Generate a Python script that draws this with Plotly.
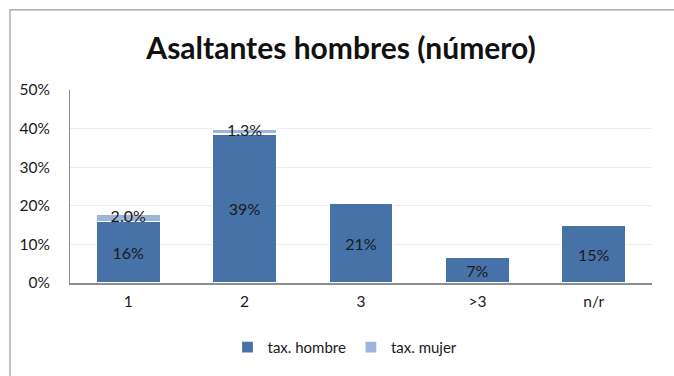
import plotly.graph_objects as go

# Data
categorias = ["1", "2", "3", ">3", "n/r"]
tax_hombre = [15.9, 38.6, 20.7, 6.6, 14.9]
tax_mujer = [2.0, 1.3, 0.0, 0.0, 0.0]
y_ticks = [0, 10, 20, 30, 40, 50]
y_tick_labels = ["0%", "10%", "20%", "30%", "40%", "50%"]

W, H = 674, 376
ML, MR, MT, MB = 70, 22, 90, 91

C_HOMBRE = "#4672A8"
C_MUJER = "#9DB5DB"
FONT = "Lato"
TXT = "#1a1a1a"

fig = go.Figure()

fig.add_trace(go.Bar(
    x=categorias, y=tax_hombre, name="tax. hombre",
    marker=dict(color=C_HOMBRE, line=dict(color="white", width=1.2)),
    text=[f"{v:.0f}%" for v in tax_hombre],
    textposition="inside", insidetextanchor="middle",
    textfont=dict(family=FONT, size=16, color=TXT),
    constraintext="none",
))
fig.add_trace(go.Bar(
    x=categorias, y=tax_mujer, name="tax. mujer",
    marker=dict(color=C_MUJER, line=dict(color="white", width=1.2)),
    textposition="none",
))

# Labels for the thin mujer segments, centred on each segment
lab_x = [c for c, m in zip(categorias, tax_mujer) if m > 0]
lab_y = [h + m / 2 for h, m in zip(tax_hombre, tax_mujer) if m > 0]
lab_t = [f"{m:.1f}%" for m in tax_mujer if m > 0]
fig.add_trace(go.Scatter(
    x=lab_x, y=lab_y, mode="text", text=lab_t, showlegend=False,
    textfont=dict(family=FONT, size=16, color=TXT),
    hoverinfo="skip",
))

pw = W - ML - MR
ph = H - MT - MB

def px_x(p):
    return (p - ML) / pw

def px_y(p):
    return (H - MB - p) / ph

# Outer chart frame
fig.add_shape(type="rect", xref="paper", yref="paper",
              x0=px_x(10), x1=px_x(690), y0=px_y(9), y1=px_y(400),
              line=dict(color="#9a9a9a", width=1.2), layer="below")

fig.update_layout(
    width=W, height=H,
    margin=dict(l=ML, r=MR, t=MT, b=MB),
    barmode="stack", bargap=0.45,
    plot_bgcolor="white", paper_bgcolor="white",
    title=dict(text="<b>Asaltantes hombres (número)</b>",
               x=px_x(341), xref="paper", xanchor="center",
               y=1 - 48 / H, yanchor="middle",
               font=dict(family=FONT, size=30, color="#111111")),
    font=dict(family=FONT, size=15, color=TXT),
    showlegend=True,
    legend=dict(orientation="h", x=px_x(345), xanchor="center",
                y=px_y(350), yanchor="middle",
                font=dict(family=FONT, size=15, color=TXT),
                itemwidth=30, traceorder="normal"),
)

fig.update_yaxes(range=[0, 50], tickvals=y_ticks, ticktext=y_tick_labels,
                 showgrid=True, gridcolor="#ececec", gridwidth=1,
                 showline=True, linecolor="#8c8c8c", linewidth=1,
                 ticks="", zeroline=False, ticklabelstandoff=16,
                 tickfont=dict(family=FONT, size=15.5, color=TXT))
fig.update_xaxes(showline=True, linecolor="#8c8c8c", linewidth=1.5,
                 ticks="", showgrid=False, ticklabelstandoff=4,
                 tickfont=dict(family=FONT, size=15.5, color=TXT))

fig.write_html("out.html")
